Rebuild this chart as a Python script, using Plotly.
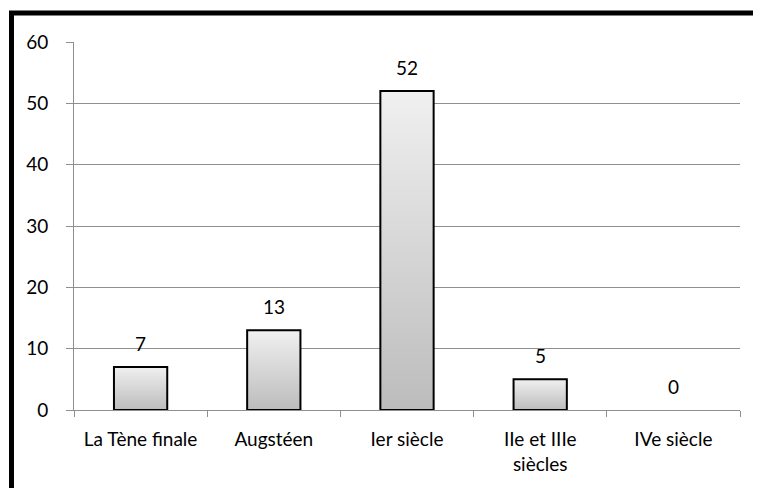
import plotly.graph_objects as go

categories = ["La Tène finale", "Augstéen", "Ier siècle", "IIe et IIIe<br>siècles", "IVe siècle"]
values = [7, 13, 52, 5, 0]
y_ticks = [0, 10, 20, 30, 40, 50, 60]

FONT = "Lato"
FS = 19
GRID = "#8f8f8f"
half = 0.2

fig = go.Figure()
for i, v in enumerate(values):
    if v <= 0:
        continue
    fig.add_trace(go.Scatter(
        x=[i - half, i - half, i + half, i + half, i - half],
        y=[0, v, v, 0, 0],
        mode="lines",
        fill="toself",
        fillgradient=dict(type="vertical",
                          colorscale=[[0, "#bcbcbc"], [1, "#f0f0f0"]]),
        line=dict(color="black", width=2),
        hoverinfo="skip",
        showlegend=False,
        xaxis="x", yaxis="y",
    ))

for i, v in enumerate(values):
    fig.add_annotation(x=i, y=v, text=str(v), showarrow=False,
                       xref="x", yref="y", yanchor="bottom", yshift=10,
                       font=dict(family=FONT, size=FS, color="black"))

# invisible trace to activate the label axis
fig.add_trace(go.Scatter(x=list(range(len(categories))), y=values, mode="markers",
                         marker=dict(opacity=0), xaxis="x2", yaxis="y",
                         hoverinfo="skip", showlegend=False))

n = len(categories)
# page body has an 8px margin; figure is sized/offset to compensate
fig.update_layout(
    width=753, height=480,
    margin=dict(l=66, r=21, t=34, b=78),
    paper_bgcolor="white", plot_bgcolor="white",
    font=dict(family=FONT, size=FS, color="black"),
    xaxis=dict(range=[-0.5, n - 0.5],
               tickvals=[k - 0.5 for k in range(n + 1)],
               ticktext=[""] * (n + 1),
               ticks="outside", ticklen=6, tickcolor=GRID, tickwidth=1,
               showgrid=False, zeroline=False,
               showline=True, linecolor=GRID, linewidth=1),
    xaxis2=dict(range=[-0.5, n - 0.5], overlaying="x", side="bottom",
                tickvals=list(range(n)), ticktext=categories,
                ticks="", showgrid=False, zeroline=False, showline=False,
                ticklabelstandoff=16,
                tickfont=dict(family=FONT, size=FS, color="black")),
    yaxis=dict(range=[0, 60], tickvals=y_ticks,
               ticks="outside", ticklen=7, tickcolor=GRID, tickwidth=1,
               showgrid=True, gridcolor=GRID, gridwidth=1,
               zeroline=False, showline=True, linecolor=GRID, linewidth=1,
               ticklabelstandoff=14,
               tickfont=dict(family=FONT, size=FS, color="black")),
)

# outer chart border (top and left visible, rest beyond the frame)
fig.add_shape(type="rect", xref="paper", yref="paper",
              x0=(3.5 - 66) / 666, x1=1.2,
              y0=-0.4, y1=(402 - 5) / 368,
              line=dict(color="black", width=5), fillcolor="rgba(0,0,0,0)",
              layer="above")

fig.write_html("out.html")
